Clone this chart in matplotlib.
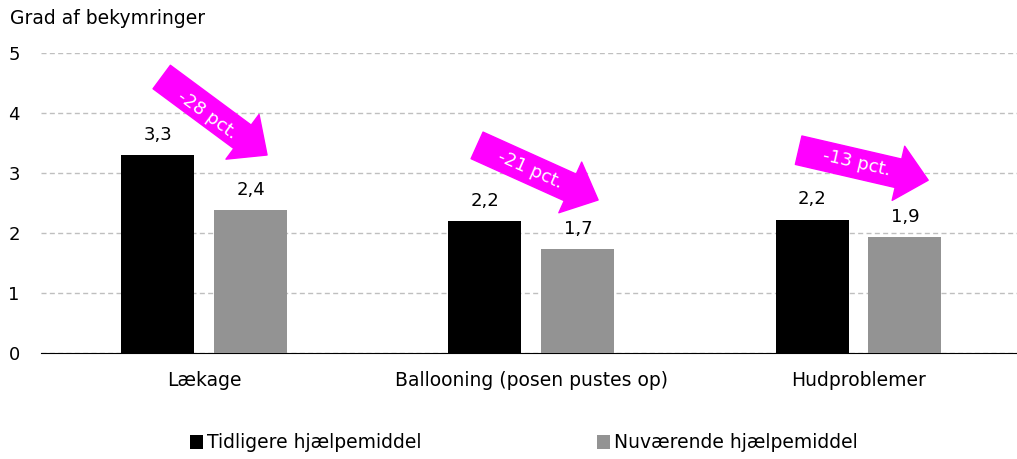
import matplotlib.pyplot as plt
import numpy as np

categories = ["Lækage", "Ballooning (posen pustes op)", "Hudproblemer"]
tidligere = [3.3, 2.2, 2.2]
nuvaerende = [2.4, 1.7, 1.9]
tid_pos = [3.3, 2.2, 2.22]
nu_pos = [2.38, 1.73, 1.93]
change_labels = ["-28 pct.", "-21 pct.", "-13 pct."]

plt.rcParams['font.family'] = 'DejaVu Sans'
fig = plt.figure(figsize=(10.17, 4.59), dpi=100)
ax = fig.add_axes([0.040, 0.231, 0.965, 0.6535])

x = np.arange(len(categories))
w = 0.223
off = 0.142
b1 = ax.bar(x - off, tid_pos, w, color='black', label='Tidligere hjælpemiddel', zorder=3)
b2 = ax.bar(x + off, nu_pos, w, color='#939393', label='Nuværende hjælpemiddel', zorder=3)

for xi, v, lab in zip(x - off, tid_pos, tidligere):
    ax.text(xi, v + 0.19, f"{lab:.1f}".replace('.', ','), ha='center', va='bottom', fontsize=13)
for xi, v, lab in zip(x + off, nu_pos, nuvaerende):
    ax.text(xi, v + 0.19, f"{lab:.1f}".replace('.', ','), ha='center', va='bottom', fontsize=13)

ax.set_ylim(0, 5)
ax.set_xlim(-0.5, 2.5)
ax.set_yticks(range(6))
ax.yaxis.grid(True, linestyle=(0, (3.6, 2.4)), color='#BFBFBF', linewidth=1, zorder=0)
for s in ['top', 'right', 'left']:
    ax.spines[s].set_visible(False)
ax.spines['bottom'].set_color('black')
ax.set_xticks(x)
ax.set_xticklabels(categories)
ax.tick_params(axis='x', length=0, pad=13, labelsize=13.5)
ax.tick_params(axis='y', length=0, pad=15, labelsize=13)

# pink arrows showing change
tails = [(-0.13, 4.6), (0.834, 3.46), (1.817, 3.38)]
tips = [(0.192, 3.3), (1.204, 2.55), (2.213, 2.88)]
text_pos = [(0.009, 3.97), (0.997, 3.05), (1.994, 3.17)]
angles = [-36, -24, -13]
for t, h, tp, ang, lab in zip(tails, tips, text_pos, angles, change_labels):
    ax.annotate('', xy=h, xytext=t,
                arrowprops=dict(arrowstyle='simple,tail_width=2.1,head_width=4.0,head_length=2.2',
                                color='#FF00FF', shrinkA=0, shrinkB=0, mutation_scale=10),
                zorder=4)
    ax.text(tp[0], tp[1], lab, rotation=ang, rotation_mode='anchor', ha='center', va='center',
            color='white', fontsize=13, zorder=5)

fig.text(0.01, 1 - 18 / 459, "Grad af bekymringer", fontsize=13.5, ha='left', va='center')

fig.legend(handles=[b1, b2], loc='center', bbox_to_anchor=(0.515, 1 - 443 / 459), ncol=2,
           frameon=False, fontsize=13.5, handlelength=0.7, handleheight=0.7,
           handletextpad=0.2, columnspacing=9.4)

fig.savefig('out.png', dpi=100)
